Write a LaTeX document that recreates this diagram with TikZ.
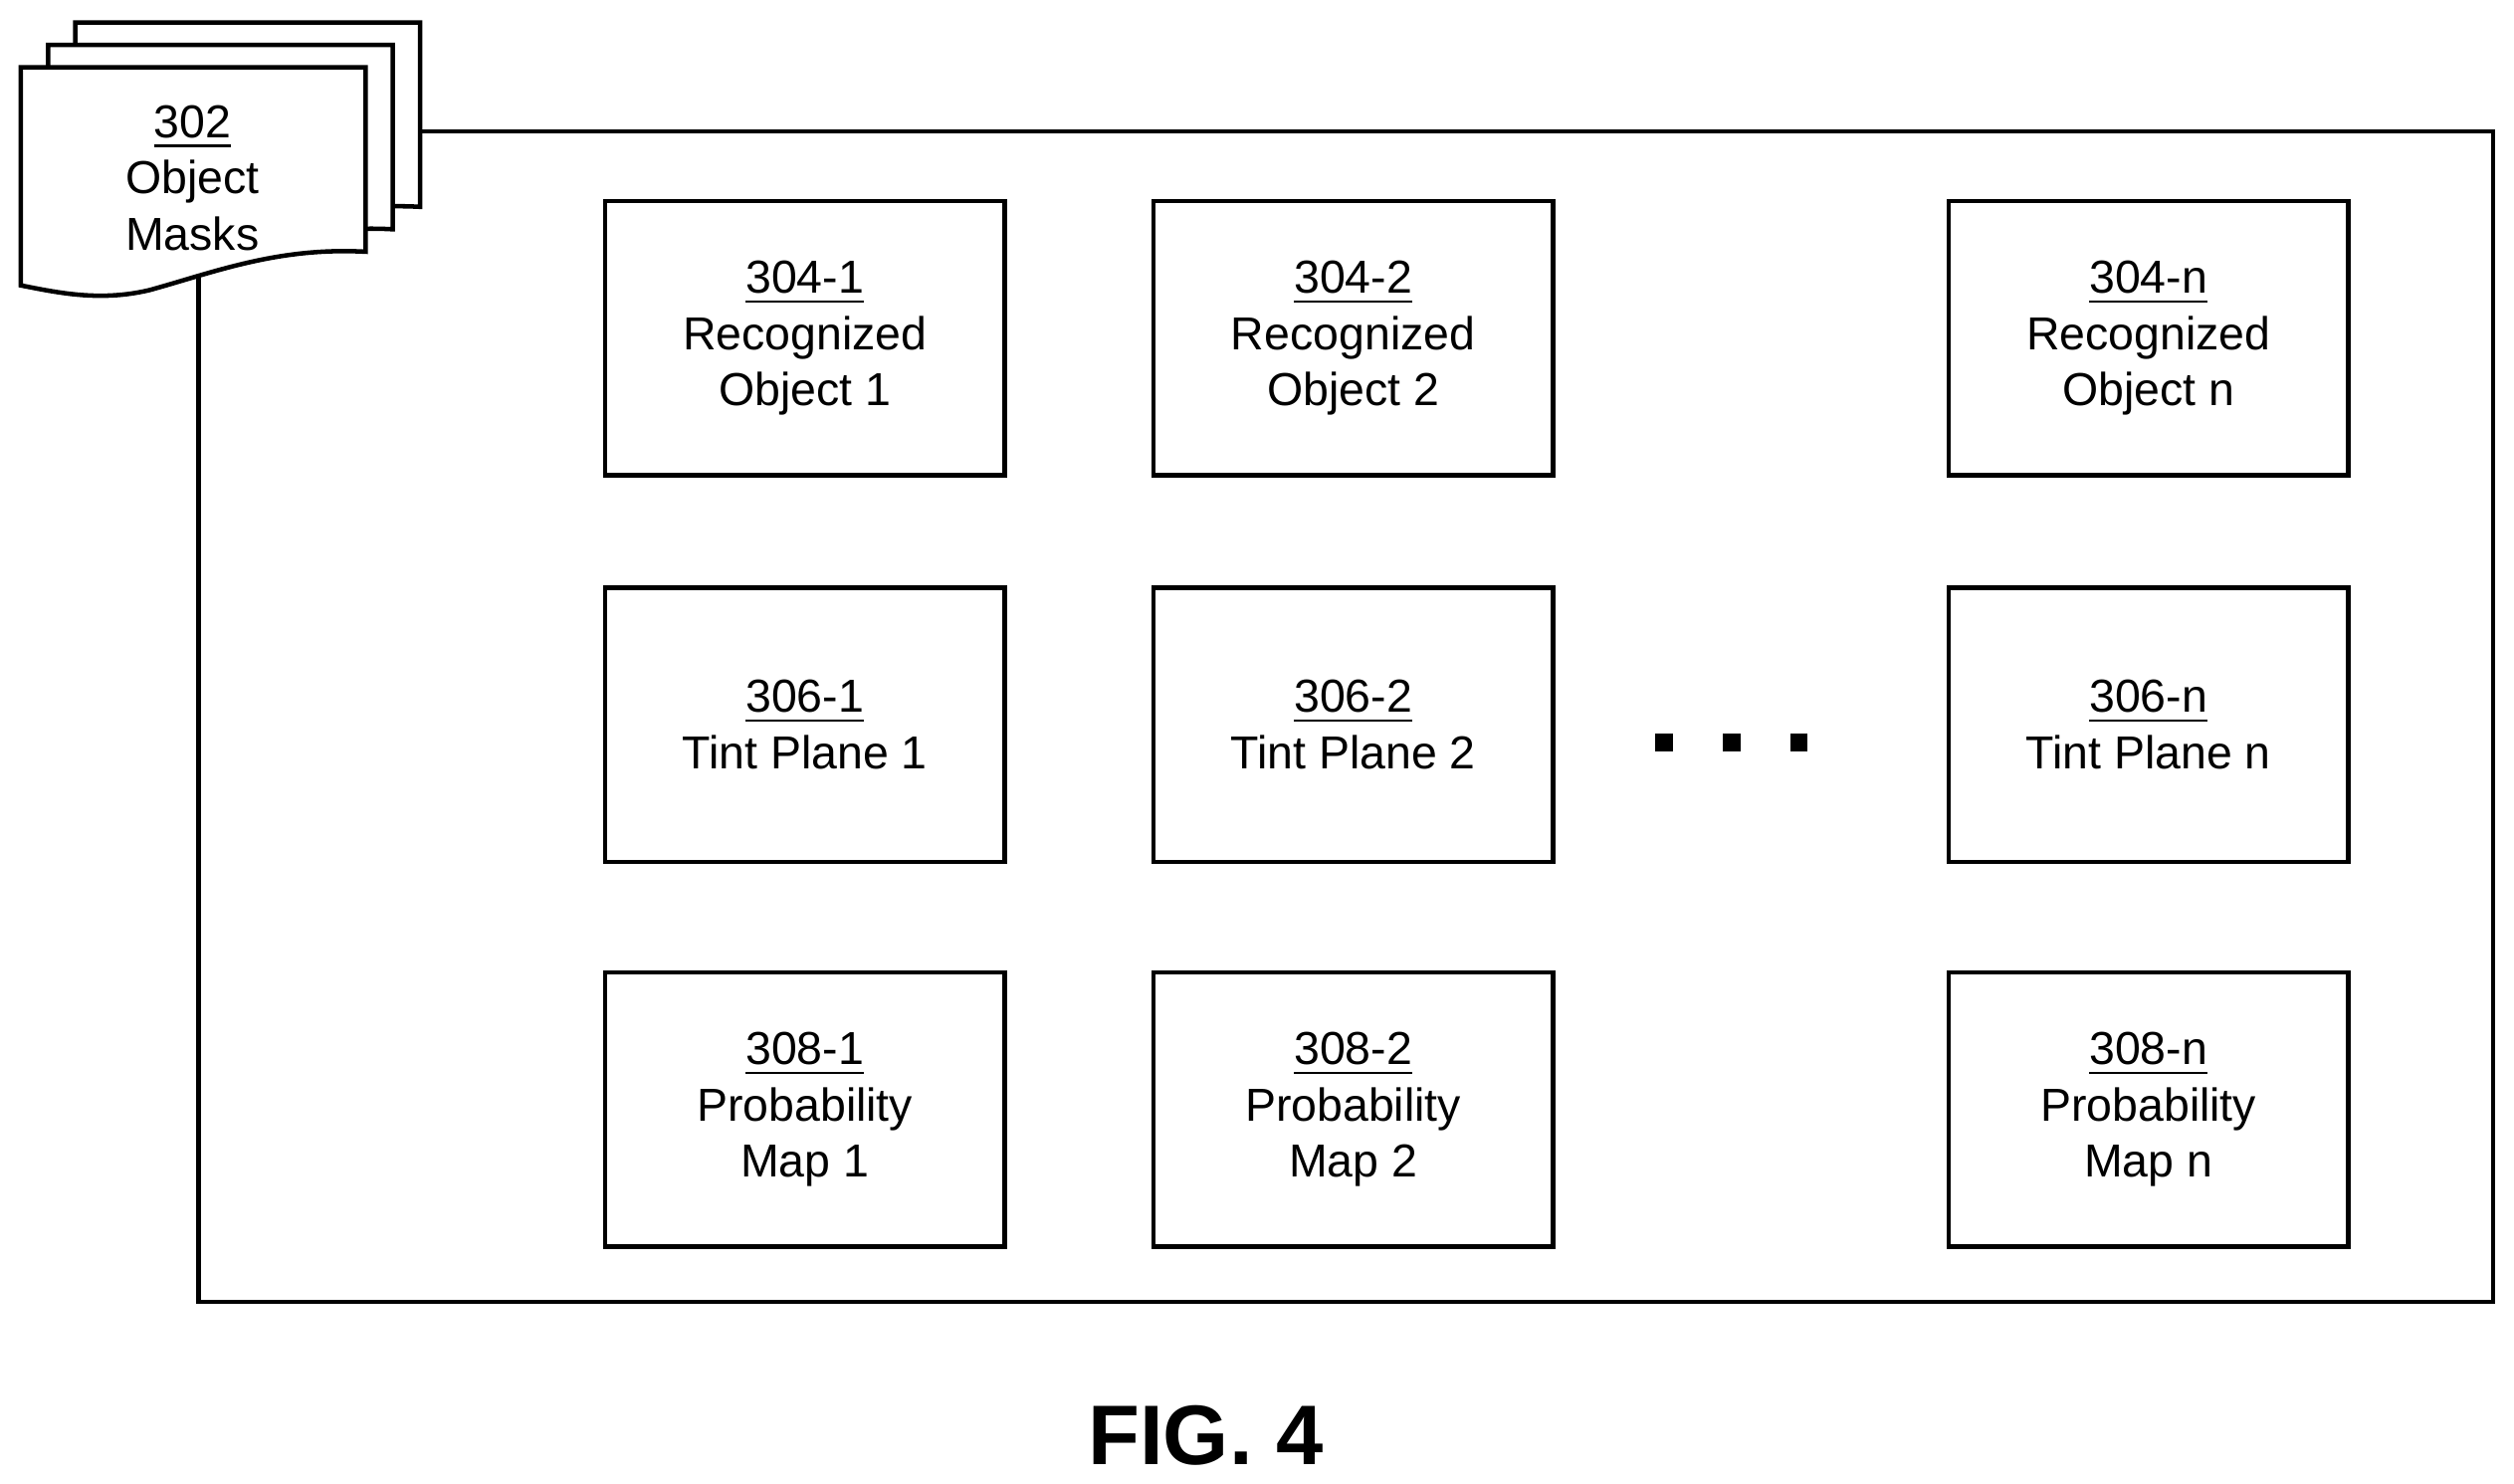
\documentclass[tikz,border=0pt]{standalone}
\usepackage{fontspec}
\setmainfont{Liberation Sans}
\usetikzlibrary{positioning}
\tikzset{
  box/.style={draw=black,thick,minimum width=2.49cm,minimum height=1.71cm,
    align=center,font=\fontsize{8.2}{10}\selectfont,inner sep=0pt},
  page/.style={draw=black,thick,fill=white},
  dot/.style={fill=black,minimum size=0.11cm,inner sep=0pt}
}
\newcommand{\pagesheet}[2]{%
  \draw[page] (#1,#2) -- (#1+215,#2) -- (#1+215,#2+115)
    .. controls (#1+160,#2+112) and (#1+120,#2+128) .. (#1+80,#2+139)
    .. controls (#1+50,#2+146) and (#1+25,#2+141) .. (#1,#2+136) -- cycle;}
\begin{document}
\begin{tikzpicture}[x=0.01cm,y=-0.01cm]
\useasboundingbox (0,0) rectangle (1568,925);
% outer frame
\draw[thick] (124,82) rectangle (1555,812);
% stack of object masks
\pagesheet{47}{14}
\pagesheet{30}{28}
\pagesheet{13}{42}
\node[align=center,font=\fontsize{8.2}{10}\selectfont,inner sep=0pt] (masks) at (120,111)
  {\underline{302}\\Object\\Masks};
% grid of boxes
\node[box] (obj1) at (502,211) {\underline{304-1}\\Recognized\\Object 1};
\node[box] (obj2) at (844,211) {\underline{304-2}\\Recognized\\Object 2};
\node[box] (objn) at (1340,211) {\underline{304-n}\\Recognized\\Object n};
\node[box] (tint1) at (502,452) {\underline{306-1}\\Tint Plane 1};
\node[box] (tint2) at (844,452) {\underline{306-2}\\Tint Plane 2};
\node[box] (tintn) at (1340,452) {\underline{306-n}\\Tint Plane n};
\node[box] (prob1) at (502,692) {\underline{308-1}\\Probability\\Map 1};
\node[box] (prob2) at (844,692) {\underline{308-2}\\Probability\\Map 2};
\node[box] (probn) at (1340,692) {\underline{308-n}\\Probability\\Map n};
% ellipsis
\foreach \x/\n in {1038/a,1080/b,1122/c}
  \node[dot] (dot\n) at (\x,463) {};
\node[font=\fontsize{15}{18}\selectfont\bfseries] (fig) at (752,895) {FIG. 4};
\end{tikzpicture}
\end{document}
